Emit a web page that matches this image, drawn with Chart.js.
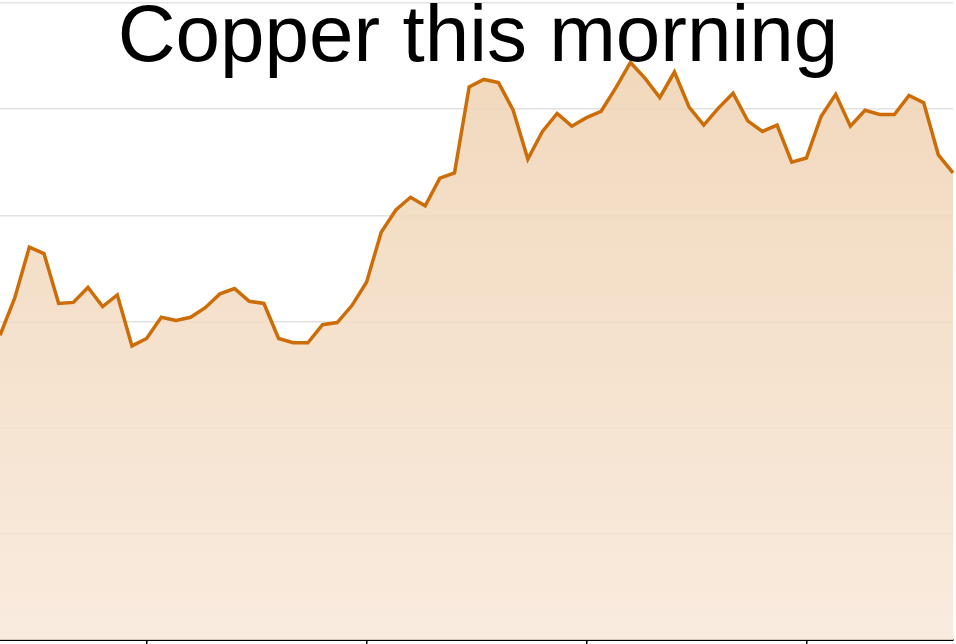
<!DOCTYPE html>
<html>
<head>
<meta charset="utf-8">
<script src="https://cdn.jsdelivr.net/npm/chart.js@4"></script>
<style>
    html, body { margin: 0; padding: 0; background: #fff; overflow: hidden; }
    #wrap { position: relative; width: 956px; height: 644px; }
    #title {
        position: absolute; left: 0; top: -6px; width: 956px;
        text-align: center; font-family: 'Liberation Sans', Arial, sans-serif;
        font-size: 80px; line-height: 80px; color: #000; z-index: 2;
        pointer-events: none;
    }
</style>
</head>
<body>
<div id="wrap">
    <div id="title">Copper this morning</div>
    <canvas id="copperChart" width="956" height="644"></canvas>
</div>
<script>
// ================================================
// DATA
// ================================================

// price level, one point per minute, in gridline units (0..6)
const copperPrice = [
    2.87, 3.22, 3.70, 3.64, 3.17, 3.18, 3.32, 3.14, 3.25, 2.77,
    2.84, 3.04, 3.01, 3.04, 3.13, 3.26, 3.31, 3.19, 3.17, 2.84,
    2.80, 2.80, 2.97, 2.99, 3.15, 3.37, 3.84, 4.05, 4.17, 4.09,
    4.35, 4.40, 5.21, 5.28, 5.25, 4.99, 4.53, 4.79, 4.96, 4.84,
    4.92, 4.98, 5.20, 5.44, 5.29, 5.11, 5.35, 5.02, 4.85, 5.01,
    5.15, 4.89, 4.79, 4.85, 4.50, 4.54, 4.93, 5.14, 4.84, 4.99,
    4.95, 4.95, 5.13, 5.06, 4.57, 4.40
];

// one category per point; only a few get a tick mark
const minuteLabels = copperPrice.map((_, i) => 'm' + i);
const tickIndexes = [10, 25, 40, 55];

const Y_MIN = 0;
const Y_MAX = 6;
const Y_STEP = 1;

// ================================================
// CHART
// ================================================

function makeFill(context) {
    const area = context.chart.chartArea;
    if (!area) return 'rgba(240, 215, 188, 0.86)';
    const g = context.chart.ctx.createLinearGradient(0, area.top, 0, area.bottom);
    g.addColorStop(0, 'rgba(238, 208, 174, 0.86)');
    g.addColorStop(1, 'rgba(248, 232, 217, 0.86)');
    return g;
}

const ctx = document.getElementById('copperChart');

new Chart(ctx, {
    type: 'line',
    data: {
        labels: minuteLabels,
        datasets: [{
            label: 'Copper',
            data: copperPrice,
            borderColor: '#cc6d08',
            backgroundColor: makeFill,
            borderWidth: 3.5,
            tension: 0,
            fill: 'start',
            pointRadius: 0,
            borderJoinStyle: 'miter'
        }]
    },
    options: {
        responsive: false,
        animation: false,
        layout: {
            padding: { top: 3, right: 3, bottom: 0, left: 0 }
        },
        plugins: {
            legend: { display: false },
            tooltip: { enabled: false },
            title: { display: false }
        },
        scales: {
            x: {
                offset: false,
                grid: {
                    drawOnChartArea: false,
                    drawTicks: true,
                    tickLength: 4,
                    lineWidth: 1.5,
                    color: c => tickIndexes.includes(c.index) ? '#000' : 'rgba(0,0,0,0)'
                },
                border: { display: true, color: '#000', width: 2 },
                ticks: { display: false, autoSkip: false }
            },
            y: {
                min: Y_MIN,
                max: Y_MAX,
                grid: {
                    color: '#e2e2e2',
                    lineWidth: 1.5,
                    drawTicks: false
                },
                border: { display: false },
                ticks: { display: false, stepSize: Y_STEP }
            }
        }
    }
});
</script>
</body>
</html>
